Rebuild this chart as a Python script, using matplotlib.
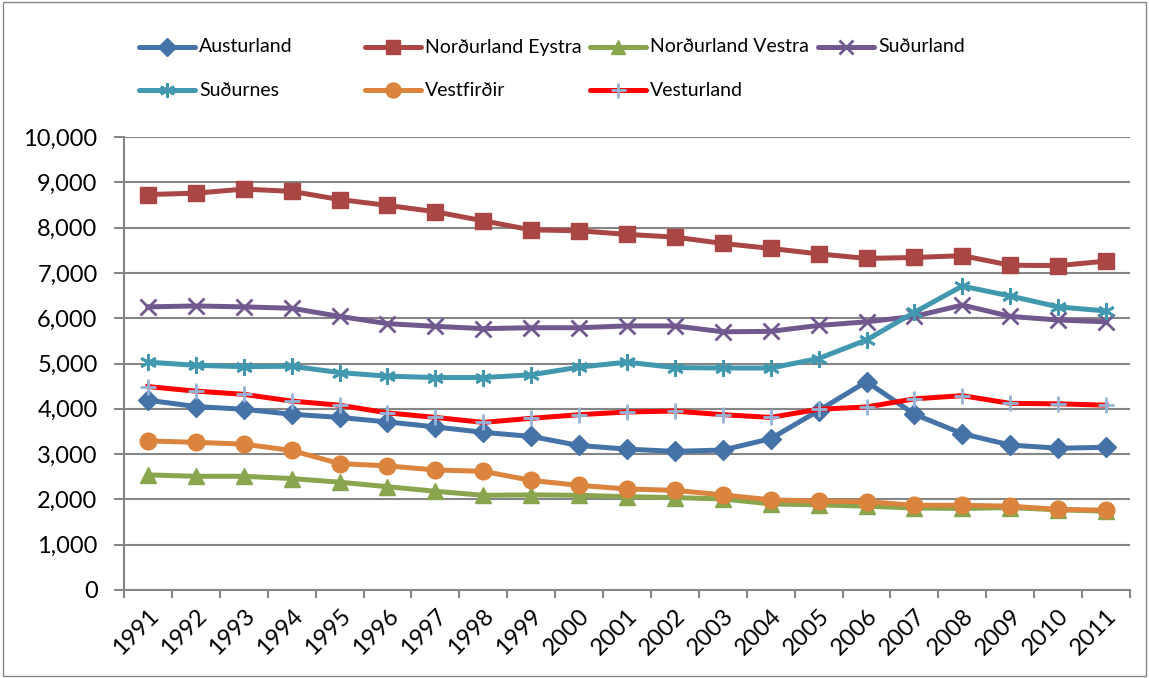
import numpy as np
import matplotlib.pyplot as plt
from matplotlib.lines import Line2D
from matplotlib.patches import Rectangle
from matplotlib.ticker import FuncFormatter
from matplotlib.transforms import ScaledTranslation

plt.rcParams['font.family'] = ['Lato', 'DejaVu Sans']

years = [str(y) for y in range(1991, 2012)]

austurland = [4190, 4050, 3990, 3880, 3810, 3710, 3600, 3480, 3390, 3190, 3110,
              3060, 3090, 3340, 3960, 4600, 3880, 3450, 3200, 3130, 3150]
nordurland_eystra = [8730, 8760, 8850, 8800, 8620, 8490, 8350, 8150, 7950, 7930, 7850,
                     7790, 7650, 7540, 7420, 7320, 7340, 7380, 7170, 7160, 7260]
nordurland_vestra = [2540, 2510, 2510, 2460, 2380, 2280, 2180, 2090, 2100, 2090, 2060,
                     2040, 2010, 1900, 1880, 1850, 1810, 1800, 1820, 1770, 1740]
sudurland = [6250, 6270, 6250, 6220, 6040, 5880, 5820, 5770, 5790, 5790, 5830,
             5830, 5700, 5710, 5840, 5920, 6040, 6290, 6040, 5960, 5920]
sudurnes = [5030, 4960, 4930, 4940, 4800, 4720, 4690, 4690, 4750, 4920, 5030,
            4910, 4900, 4900, 5110, 5520, 6130, 6710, 6490, 6250, 6160]
vestfirdir = [3290, 3260, 3220, 3080, 2790, 2740, 2650, 2620, 2420, 2310, 2230,
              2200, 2100, 1990, 1960, 1950, 1870, 1870, 1850, 1780, 1760]
vesturland = [4490, 4390, 4320, 4170, 4080, 3910, 3810, 3700, 3790, 3870, 3930,
              3950, 3870, 3810, 3990, 4040, 4220, 4290, 4120, 4110, 4080]

# name, data, line colour, marker, marker size, marker colour
series = [
    ('Austurland', austurland, '#4572A7', 'D', 10, '#4572A7'),
    ('Norðurland Eystra', nordurland_eystra, '#AA4643', 's', 11, '#AA4643'),
    ('Norðurland Vestra', nordurland_vestra, '#89A54E', '^', 11, '#89A54E'),
    ('Suðurland', sudurland, '#71588F', 'x', 11, '#71588F'),
    ('Suðurnes', sudurnes, '#4198AF', (6, 2, 0), 12, '#4198AF'),
    ('Vestfirðir', vestfirdir, '#DB843D', 'o', 12, '#DB843D'),
    ('Vesturland', vesturland, '#FF0000', '+', 12, '#95B3D7'),
]

fig = plt.figure(figsize=(11.49, 6.78), dpi=100)
ax = fig.add_axes([124 / 1149, 1 - 590 / 678, (1130 - 124) / 1149, (590 - 137) / 678])

x = np.arange(len(years))
for name, data, col, mk, ms, mcol in series:
    ax.plot(x, data, color=col, lw=3.6, marker=mk, ms=ms, mfc=mcol, mec=mcol,
            mew=2 if mk in ('x', '+', (6, 2, 0)) else 1, solid_joinstyle='round')

grid_col = '#868686'
ax.set_xlim(-0.5, len(years) - 0.5)
ax.set_ylim(0, 10000)
ax.set_yticks(np.arange(0, 10001, 1000))
ax.yaxis.set_major_formatter(FuncFormatter(lambda v, p: f'{int(v):,}'))
ax.grid(axis='y', color=grid_col, lw=1.5)
ax.set_axisbelow(True)
ax.set_xticks(x)
ax.set_xticklabels(years, rotation=45, ha='right', va='top', rotation_mode='anchor')
shift = ScaledTranslation(-10 / 72, 0, fig.dpi_scale_trans)
for lab in ax.get_xticklabels():
    lab.set_transform(lab.get_transform() + shift)
ax.set_xticks(np.arange(-0.5, len(years)), minor=True)
ax.tick_params(axis='x', which='major', length=0, labelsize=17, pad=11)
ax.tick_params(axis='x', which='minor', length=6, color=grid_col, width=1.5)
ax.tick_params(axis='y', length=7, color=grid_col, width=1.5, labelsize=17, pad=12)
for s in ['top', 'right']:
    ax.spines[s].set_visible(False)
for s in ['left', 'bottom']:
    ax.spines[s].set_color(grid_col)
    ax.spines[s].set_linewidth(1.5)

# legend in Excel style: equal column widths, row-wise order
col_x = [139, 365, 590, 818]
row_y = [47, 90]
for i, (name, data, col, mk, ms, mcol) in enumerate(series):
    r, c = divmod(i, 4)
    x0 = col_x[c] / 1149
    x1 = (col_x[c] + 56) / 1149
    yy = 1 - row_y[r] / 678
    fig.add_artist(Line2D([x0, x1], [yy, yy], transform=fig.transFigure, color=col,
                          lw=3.6, solid_capstyle='round'))
    fig.add_artist(Line2D([(x0 + x1) / 2], [yy], transform=fig.transFigure,
                          marker=mk, ms=ms * 0.9, mfc=mcol, mec=mcol,
                          mew=2 if mk in ('x', '+', (6, 2, 0)) else 1, lw=0))
    fig.text(x1 + 4 / 1149, yy, name, fontsize=14, va='center', ha='left')

fig.add_artist(Rectangle((0.003, 0.003), 0.994, 0.994, transform=fig.transFigure,
                         fill=False, edgecolor=grid_col, lw=1))

fig.savefig('out.png', dpi=100)
